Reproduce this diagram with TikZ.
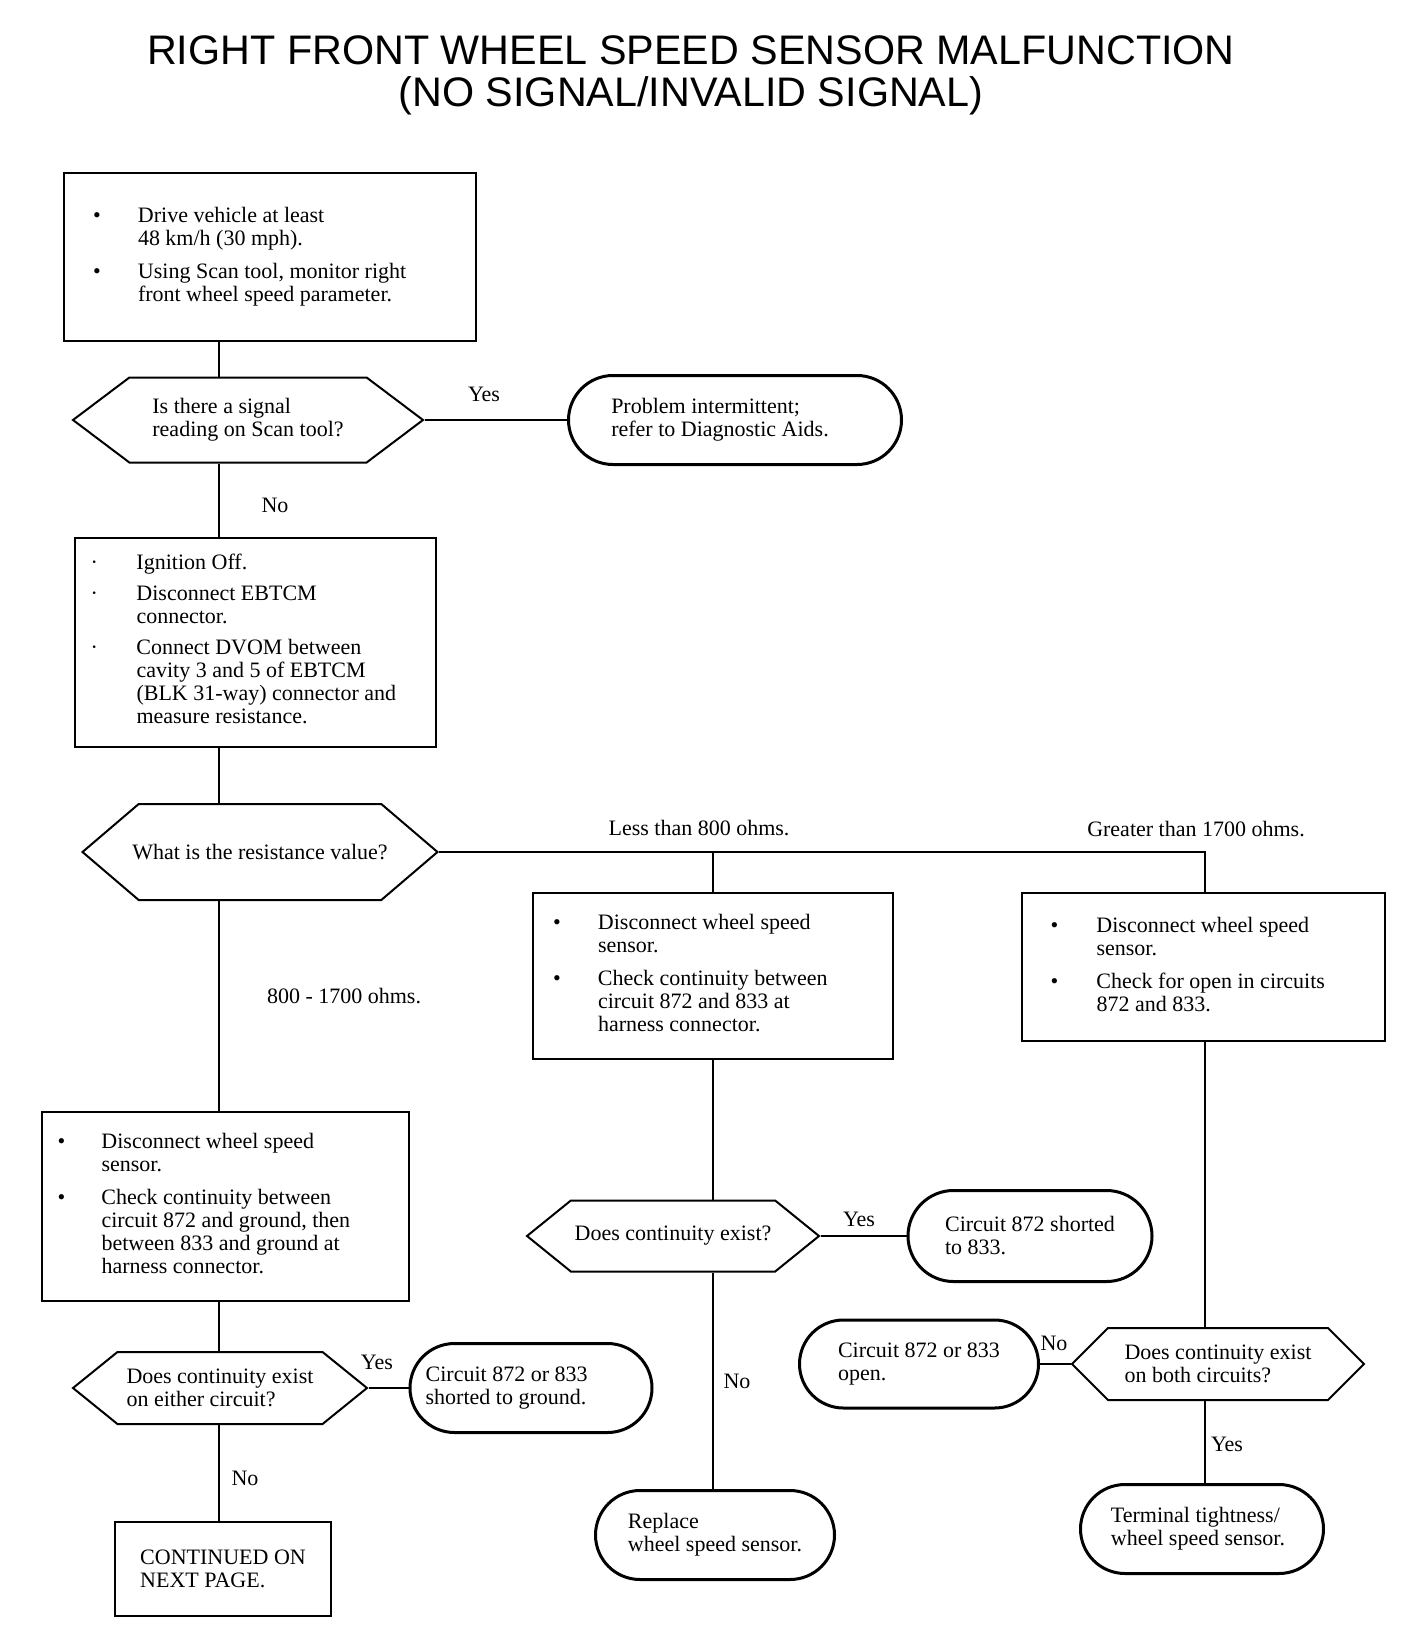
\documentclass[tikz,border=0pt]{standalone}
\usepackage{fontspec}
\setmainfont{Liberation Serif}
\newfontfamily\titlefont{Liberation Sans}
\usetikzlibrary{shapes.misc,shapes.symbols}
\newcommand{\bodyfont}{\fontsize{22}{23}\selectfont}

\tikzset{
  stepbox/.style={draw, line width=2pt, rectangle, inner sep=0pt, align=left, font=\bodyfont},
  query/.style={draw, line width=2pt, signal, signal to=east and west, signal pointer angle=78,
    inner sep=0pt, align=left, font=\bodyfont},
  endbox/.style={draw, line width=3pt, rounded rectangle, inner sep=0pt, align=left, font=\bodyfont},
  link/.style={line width=1.8pt},
  tag/.style={font=\bodyfont, inner sep=1pt}
}

\begin{document}
\begin{tikzpicture}[x=1pt, y=-1pt]
    \useasboundingbox (0,0) rectangle (1408,1648);

    % Title
    \node[font=\titlefont\fontsize{41.3}{42}\selectfont, align=center] (title) at (691,75)
        {RIGHT FRONT WHEEL SPEED SENSOR MALFUNCTION\\(NO SIGNAL/INVALID SIGNAL)};

    % The three vertical runs
    \coordinate (col1) at (219,0);
    \coordinate (col2) at (713,0);
    \coordinate (col3) at (1205,0);

    % Left column
    \node[stepbox, minimum width=412pt, minimum height=168pt] (drive) at (270,257)
        {\begin{tabular}{@{}p{45pt}@{}p{309pt}@{}}
        \textbullet & Drive vehicle at least\newline 48 km/h (30 mph).\\[10pt]
        \textbullet & Using Scan tool, monitor right\newline front wheel speed parameter.
        \end{tabular}};
    \node[query, minimum width=350pt, minimum height=85pt, signal pointer angle=74] (signal) at (248,420)
        {Is there a signal\\reading on Scan tool?};
    \node[endbox, minimum width=333pt, minimum height=89pt] (intermit) at (735,420)
        {Problem intermittent;\\refer to Diagnostic Aids.\hspace*{30pt}};

    \node[stepbox, minimum width=361pt, minimum height=209pt] (ignition) at (255,642)
        {\begin{tabular}{@{}p{46pt}@{}p{283pt}@{}}
        · & Ignition Off.\\[8pt]
        · & Disconnect EBTCM\newline connector.\\[8pt]
        · & Connect DVOM between\newline cavity 3 and 5 of EBTCM\newline
            (BLK 31-way) connector and\newline measure resistance.
        \end{tabular}};
    \node[query, minimum width=355pt, minimum height=96pt, signal pointer angle=81, inner xsep=-8pt] (resist) at (260,852)
        {What is the resistance value?};

    \node[stepbox, minimum width=367pt, minimum height=189pt] (ground) at (225,1206)
        {\begin{tabular}{@{}p{44pt}@{}p{291pt}@{}}
        \textbullet & Disconnect wheel speed\newline sensor.\\[10pt]
        \textbullet & Check continuity between\newline circuit 872 and ground, then\newline
            between 833 and ground at\newline harness connector.
        \end{tabular}};
    \node[query, minimum width=294pt, minimum height=72pt] (either) at (220,1388)
        {Does continuity exist\\on either circuit?};
    \node[endbox, minimum width=242pt, minimum height=89pt] (shortgnd) at (531,1388)
        {Circuit 872 or 833\\shorted to ground.\hspace*{50pt}};
    \node[stepbox, minimum width=216pt, minimum height=94pt] (nextpage) at (223,1569)
        {CONTINUED ON\\NEXT PAGE.};

    % Middle column
    \node[stepbox, minimum width=360pt, minimum height=166pt] (pair) at (713,976)
        {\begin{tabular}{@{}p{45pt}@{}p{275pt}@{}}
        \textbullet & Disconnect wheel speed\newline sensor.\\[10pt]
        \textbullet & Check continuity between\newline circuit 872 and 833 at\newline harness connector.
        \end{tabular}};
    \node[query, minimum width=292pt, minimum height=71pt] (exist) at (673,1236)
        {Does continuity exist?};
    \node[endbox, minimum width=244pt, minimum height=91pt] (short833) at (1030,1236)
        {Circuit 872 shorted\\to 833.};
    \node[endbox, minimum width=239pt, minimum height=89pt] (replace) at (715,1535)
        {Replace\\wheel speed sensor.};

    % Right column
    \node[stepbox, minimum width=363pt, minimum height=148pt] (opencheck) at (1203,967)
        {\begin{tabular}{@{}p{46pt}@{}p{259pt}@{}}
        \textbullet & Disconnect wheel speed\newline sensor.\\[10pt]
        \textbullet & Check for open in circuits\newline 872 and 833.
        \end{tabular}};
    \node[query, minimum width=292pt, minimum height=72pt, signal pointer angle=90] (both) at (1218,1364)
        {Does continuity exist\\on both circuits?};
    \node[endbox, minimum width=239pt, minimum height=88pt] (opencirc) at (919,1364)
        {Circuit 872 or 833\\open.};
    \node[endbox, minimum width=243pt, minimum height=89pt] (tight) at (1202,1529)
        {Terminal tightness/\\wheel speed sensor.\hspace*{8pt}};

    % Connectors
    \draw[link] (drive.south -| col1) -- (signal.north -| col1);
    \draw[link] (signal.east) -- (intermit.west);
    \draw[link] (signal.south -| col1) -- (ignition.north -| col1);
    \draw[link] (ignition.south -| col1) -- (resist.north -| col1);
    \draw[link] (resist.east) -| (opencheck.north -| col3);
    \draw[link] (pair.north -| col2) -- (resist.east -| col2);
    \draw[link] (resist.south -| col1) -- (ground.north -| col1);
    \draw[link] (ground.south -| col1) -- (either.north -| col1);
    \draw[link] (either.east) -- (shortgnd.west);
    \draw[link] (either.south -| col1) -- (nextpage.north -| col1);
    \draw[link] (pair.south -| col2) -- (exist.north -| col2);
    \draw[link] (exist.east) -- (short833.west);
    \draw[link] (exist.south -| col2) -- (replace.north -| col2);
    \draw[link] (opencheck.south -| col3) -- (both.north -| col3);
    \draw[link] (both.west) -- (opencirc.east);
    \draw[link] (both.south -| col3) -- (tight.north -| col3);

    % Branch labels
    \node[tag] (yes1) at (484,394) {Yes};
    \node[tag] (no1) at (275,505) {No};
    \node[tag] (lessthan) at (699,828) {Less than 800 ohms.};
    \node[tag] (greater) at (1196,829) {Greater than 1700 ohms.};
    \node[tag] (inrange) at (344,996) {800 - 1700 ohms.};
    \node[tag] (yes2) at (859,1219) {Yes};
    \node[tag] (no2) at (737,1381) {No};
    \node[tag] (yes3) at (377,1362) {Yes};
    \node[tag] (no3) at (245,1478) {No};
    \node[tag] (no4) at (1054,1343) {No};
    \node[tag] (yes4) at (1227,1444) {Yes};
\end{tikzpicture}
\end{document}
